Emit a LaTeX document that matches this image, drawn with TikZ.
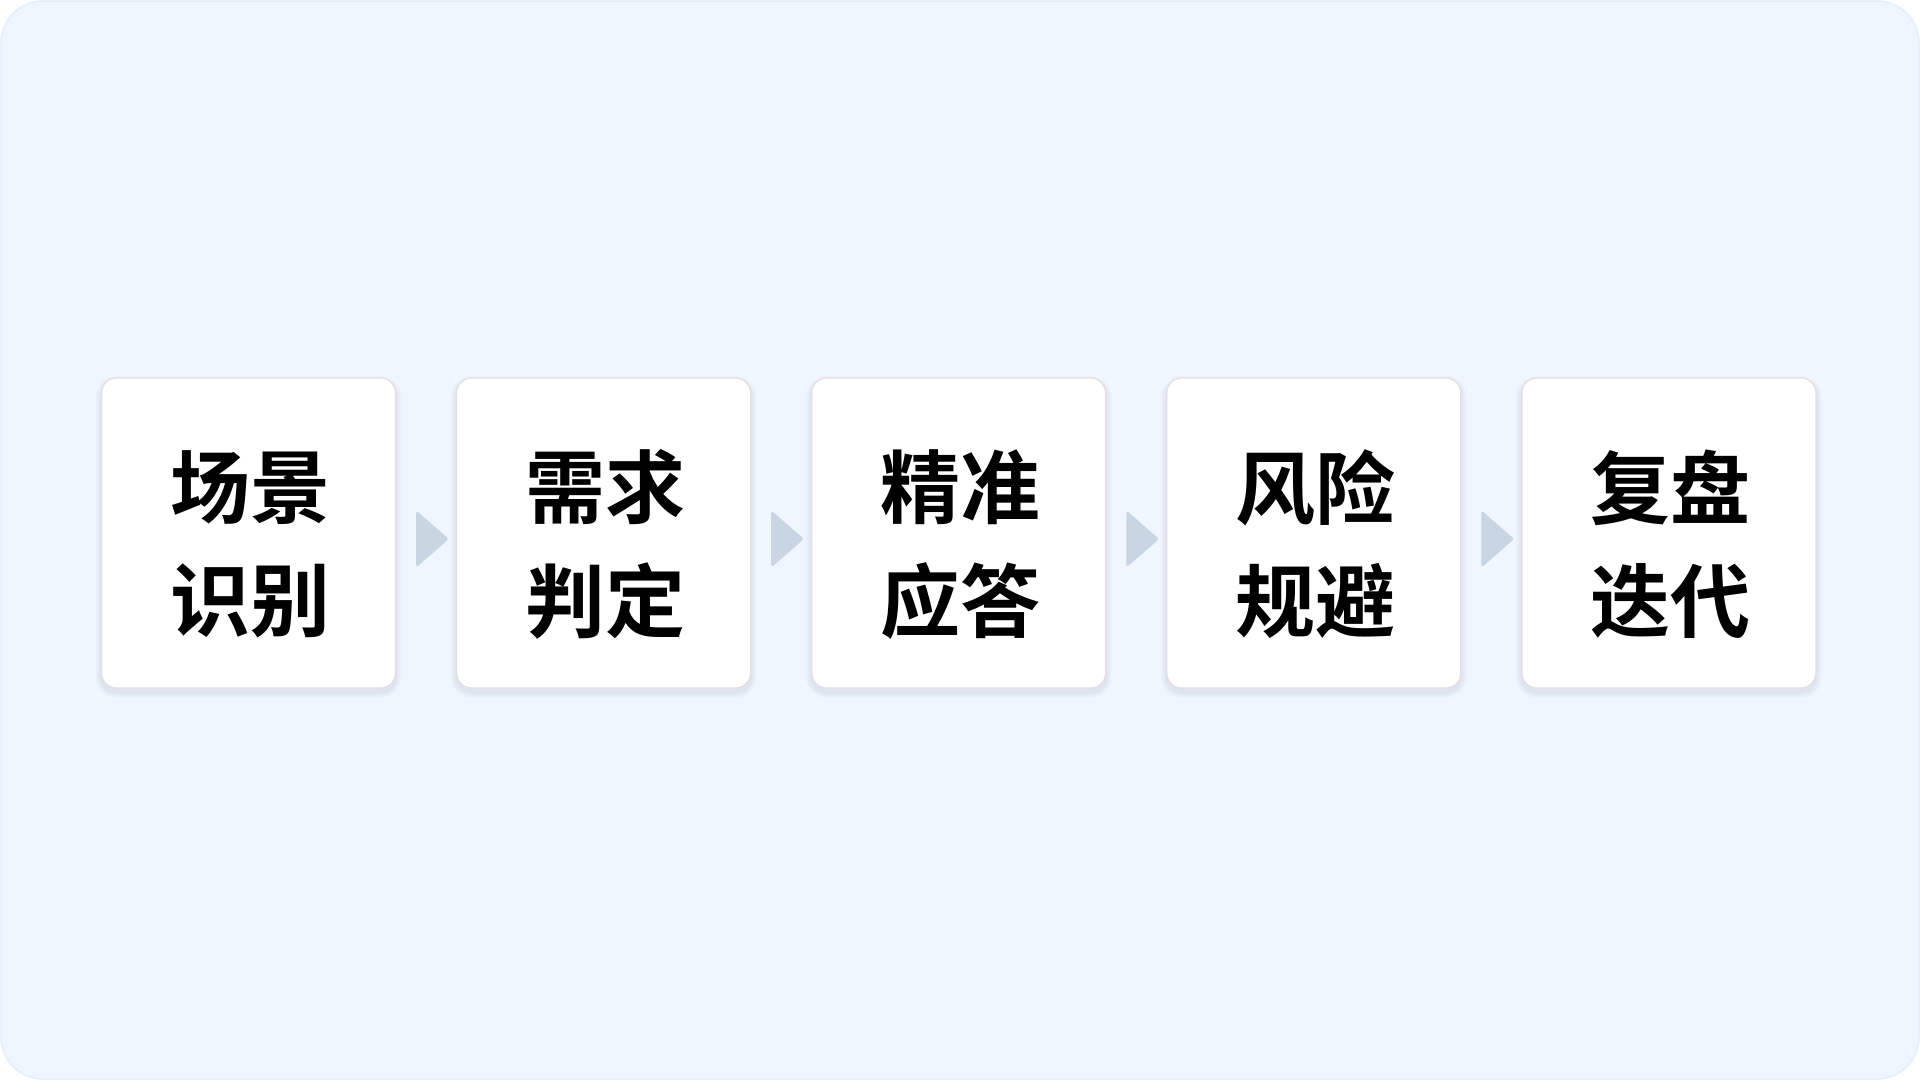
\documentclass[tikz,border=0pt]{standalone}
\usepackage{fontspec}
\newfontfamily\cjk{Noto Sans CJK SC}[BoldFont={Noto Sans CJK SC Bold}]
\usetikzlibrary{calc}
\definecolor{bgc}{HTML}{EFF6FF}
\definecolor{bgedge}{HTML}{E6EEF9}
\definecolor{boxedge}{HTML}{E7DCDF}
\definecolor{arrowc}{HTML}{C9D5E2}
\definecolor{shadowc}{HTML}{5A6E90}
\tikzset{
  stepbox/.style={draw=boxedge, line width=1.2pt, fill=white, rounded corners=15pt,
    minimum width=294pt, minimum height=310pt, inner sep=0pt},
  steptext/.style={font=\cjk\bfseries\fontsize{80}{96}\selectfont, text=black, inner sep=0pt},
  tri/.style={fill=arrowc, draw=arrowc, line width=1pt, line join=round, rounded corners=1.5pt}
}
\begin{document}
\begin{tikzpicture}[x=1pt,y=-1pt]
\useasboundingbox (0,0) rectangle (1920,1080);
\fill[white] (0,0) rectangle (1920,1080);
\draw[fill=bgc, draw=bgedge, line width=1.5pt, rounded corners=42pt] (1,1) rectangle (1919,1079);
\foreach \i/\a/\b in {1/场景/识别, 2/需求/判定, 3/精准/应答, 4/风险/规避, 5/复盘/迭代}{
  \pgfmathsetmacro{\cx}{248.5+355.1*(\i-1)}
  \foreach \k in {1,...,6}{
    \fill[shadowc, opacity=0.018, rounded corners=15pt+\k pt]
      (\cx-147-\k, 378+4-\k) rectangle (\cx+147+\k, 688+4+\k);
  }
  \node[stepbox] (b\i) at (\cx,533) {};
  \node[steptext] (t\i a) at (\cx+1.5,487.5) {\a};
  \node[steptext] (t\i b) at (\cx+1.5,601) {\b};
}
\foreach \i in {1,2,3,4}{
  \fill[tri] ($(b\i.east)+(20.5,-21.5)$) -- ($(b\i.east)+(52,6)$) -- ($(b\i.east)+(20.5,33.5)$) -- cycle;
}
\end{tikzpicture}
\end{document}
